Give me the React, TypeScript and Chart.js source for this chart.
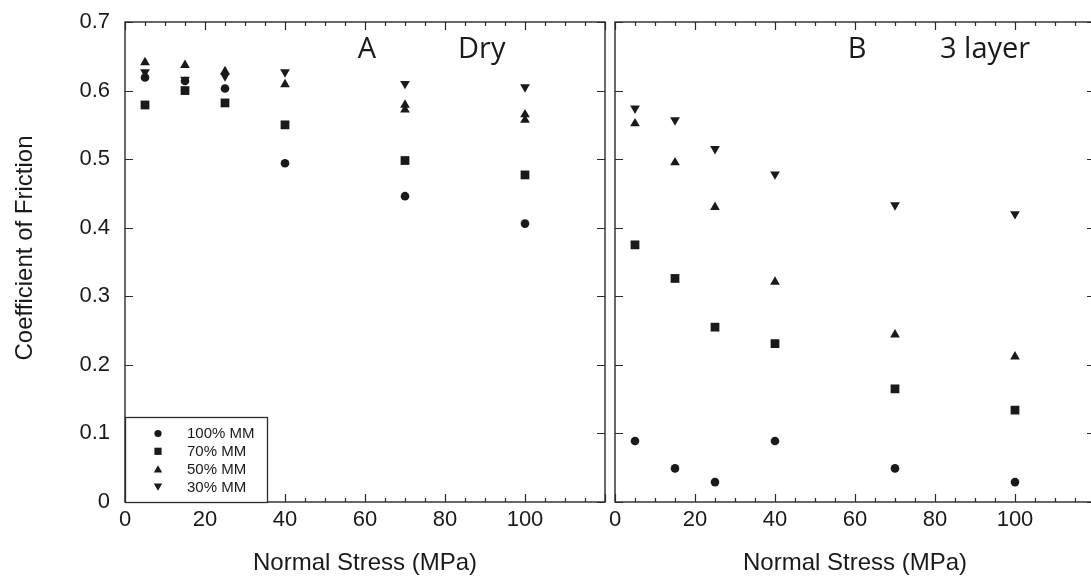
import React, { useEffect, useRef } from "react";
import { Chart, registerables } from "chart.js";

Chart.register(...registerables);

// ---------- data ----------
const stress = [5, 15, 25, 40, 70, 100];
const stress50A = [5, 15, 25, 40, 70, 70, 100, 100];

// Panel A: Dry
const mm100A = [0.619, 0.614, 0.603, 0.494, 0.446, 0.406];
const mm70A = [0.579, 0.6, 0.582, 0.55, 0.498, 0.477];
const mm50A = [0.641, 0.637, 0.628, 0.609, 0.579, 0.572, 0.565, 0.557];
const mm30A = [0.627, 0.616, 0.621, 0.627, 0.61, 0.605];

// Panel B: 3 layer
const mm100B = [0.089, 0.049, 0.029, 0.089, 0.049, 0.029];
const mm70B = [0.375, 0.326, 0.255, 0.231, 0.165, 0.134];
const mm50B = [0.552, 0.495, 0.43, 0.321, 0.244, 0.212];
const mm30B = [0.574, 0.557, 0.515, 0.478, 0.433, 0.42];

const seriesLabels = ["100% MM", "70% MM", "50% MM", "30% MM"];
const xAxisTitle = "Normal Stress (MPa)";
const yAxisTitle = "Coefficient of Friction";
const xHiddenTickValue = 120;

const FONT = "'Liberation Sans', Arial, Helvetica, sans-serif";
const NOTE_FONT = "'Open Sans', 'Noto Sans', sans-serif";
const INK = "#1a1a1a";
const FRAME = "#2a2a2a";

type Style = { pointStyle: string; radius: number; rotation: number };
const styles: Style[] = [
  { pointStyle: "circle", radius: 4.3, rotation: 0 },
  { pointStyle: "rect", radius: 6.2, rotation: 0 },
  { pointStyle: "triangle", radius: 5.6, rotation: 0 },
  { pointStyle: "triangle", radius: 5.6, rotation: 180 },
];

function pts(xs: number[], ys: number[]) {
  return ys.map((y, i) => ({ x: xs[i], y }));
}

function makeDatasets(series: { xs: number[]; ys: number[] }[]) {
  return series.map((s, i) => ({
    label: seriesLabels[i],
    data: pts(s.xs, s.ys),
    pointStyle: styles[i].pointStyle,
    pointRadius: styles[i].radius,
    pointRotation: styles[i].rotation,
    backgroundColor: INK,
    borderColor: INK,
    borderWidth: 0,
    showLine: false,
  }));
}

// frame + inward ticks
const framePlugin = {
  id: "frameTicks",
  afterDatasetsDraw(chart: any) {
    const { ctx, chartArea: a, scales } = chart;
    const xs = scales.x;
    const ys = scales.y;
    ctx.save();
    ctx.strokeStyle = FRAME;
    ctx.lineWidth = 1.4;
    ctx.strokeRect(a.left, a.top, a.right - a.left, a.bottom - a.top);
    ctx.lineWidth = 1.2;
    ctx.beginPath();
    for (let v = xs.min; v <= xs.max + 1e-9; v += 5) {
      const px = Math.round(xs.getPixelForValue(v)) + 0.5;
      const len = v % 20 === 0 ? 8 : 4;
      ctx.moveTo(px, a.bottom);
      ctx.lineTo(px, a.bottom - len);
      ctx.moveTo(px, a.top);
      ctx.lineTo(px, a.top + len);
    }
    for (let k = 0; k <= 7; k++) {
      const v = ys.min + k * 0.1;
      const py = Math.round(ys.getPixelForValue(v)) + 0.5;
      ctx.moveTo(a.left, py);
      ctx.lineTo(a.left + 8, py);
      ctx.moveTo(a.right, py);
      ctx.lineTo(a.right - 8, py);
    }
    ctx.stroke();
    ctx.restore();
  },
};

function notePlugin(letter: string, text: string, letterX: number, textX: number, baseY: number) {
  return {
    id: "note",
    afterDatasetsDraw(chart: any) {
      const { ctx, scales } = chart;
      ctx.save();
      ctx.fillStyle = INK;
      ctx.font = `29px ${NOTE_FONT}`;
      ctx.textBaseline = "alphabetic";
      const y = scales.y.getPixelForValue(baseY);
      ctx.textAlign = "center";
      ctx.fillText(letter, scales.x.getPixelForValue(letterX), y);
      ctx.textAlign = "left";
      ctx.fillText(text, scales.x.getPixelForValue(textX), y);
      ctx.restore();
    },
  };
}

const yTitlePlugin = {
  id: "yTitle",
  afterDraw(chart: any) {
    const { ctx } = chart;
    ctx.save();
    ctx.translate(32, 248);
    ctx.rotate(-Math.PI / 2);
    ctx.fillStyle = INK;
    ctx.font = `24px ${FONT}`;
    ctx.textAlign = "center";
    ctx.textBaseline = "alphabetic";
    ctx.fillText(yAxisTitle, 0, 0);
    ctx.restore();
  },
};

const legendPlugin = {
  id: "boxLegend",
  afterDatasetsDraw(chart: any) {
    const { ctx, chartArea: a } = chart;
    const boxW = 142;
    const boxTop = 417;
    ctx.save();
    ctx.fillStyle = "#ffffff";
    ctx.fillRect(a.left, boxTop, boxW, a.bottom - boxTop);
    ctx.strokeStyle = FRAME;
    ctx.lineWidth = 1.3;
    ctx.strokeRect(a.left + 0.5, boxTop + 0.5, boxW, a.bottom - boxTop);
    ctx.font = `15px ${FONT}`;
    ctx.textBaseline = "middle";
    ctx.textAlign = "left";
    chart.data.datasets.forEach((ds: any, i: number) => {
      const cy = boxTop + 16.5 + i * 17.8;
      const cx = a.left + 33;
      ctx.fillStyle = INK;
      ctx.beginPath();
      if (ds.pointStyle === "circle") {
        ctx.arc(cx, cy, 3.6, 0, Math.PI * 2);
      } else if (ds.pointStyle === "rect") {
        ctx.rect(cx - 3.6, cy - 3.6, 7.2, 7.2);
      } else if (ds.pointRotation === 180) {
        ctx.moveTo(cx - 4.2, cy - 3.5);
        ctx.lineTo(cx + 4.2, cy - 3.5);
        ctx.lineTo(cx, cy + 3.8);
        ctx.closePath();
      } else {
        ctx.moveTo(cx - 4.2, cy + 3.5);
        ctx.lineTo(cx + 4.2, cy + 3.5);
        ctx.lineTo(cx, cy - 3.8);
        ctx.closePath();
      }
      ctx.fill();
      ctx.fillText(ds.label, a.left + 62, cy + 0.5);
    });
    ctx.restore();
  },
};

function buildOptions(showYLabels: boolean, yWidth: number) {
  return {
    animation: false,
    responsive: false,
    maintainAspectRatio: false,
    layout: { padding: { top: 22, right: 7, left: 0, bottom: 0 }, autoPadding: false },
    plugins: { legend: { display: false }, tooltip: { enabled: false } },
    scales: {
      x: {
        type: "linear",
        min: 0,
        max: 120,
        grid: { display: false, drawTicks: false },
        border: { display: false },
        ticks: {
          stepSize: 20,
          padding: 5,
          color: INK,
          maxRotation: 0,
          autoSkip: false,
          font: { size: 22, family: FONT },
          callback: (v: number) => (v === xHiddenTickValue ? "" : String(v)),
        },
        title: {
          display: true,
          text: xAxisTitle,
          color: INK,
          font: { size: 24, family: FONT },
          padding: { top: 0, bottom: 10 },
        },
        afterFit: (s: any) => {
          s.height = 86;
          s.paddingLeft = 0;
          s.paddingRight = 0;
        },
      },
      y: {
        type: "linear",
        min: 0,
        max: 0.7,
        display: true,
        grid: { display: false, drawTicks: false },
        border: { display: false },
        ticks: {
          display: showYLabels,
          stepSize: 0.1,
          padding: 15,
          color: INK,
          font: { size: 22, family: FONT },
          callback: (v: number) => String(Math.round(v * 10) / 10),
        },
        afterFit: (s: any) => {
          s.width = yWidth;
          s.paddingTop = 0;
          s.paddingBottom = 0;
        },
      },
    },
  };
}

function Panel(props: {
  left: number;
  width: number;
  series: { xs: number[]; ys: number[] }[];
  showY: boolean;
  yWidth: number;
  plugins: any[];
}) {
  const ref = useRef<HTMLCanvasElement | null>(null);
  useEffect(() => {
    if (!ref.current) return;
    const chart = new Chart(ref.current, {
      type: "scatter",
      data: { datasets: makeDatasets(props.series) as any },
      options: buildOptions(props.showY, props.yWidth) as any,
      plugins: props.plugins,
    });
    return () => chart.destroy();
  }, []);
  return (
    <canvas
      ref={ref}
      width={props.width}
      height={588}
      style={{ position: "absolute", left: props.left, top: 0, width: props.width, height: 588 }}
    />
  );
}

export default function App() {
  const seriesA = [
    { xs: stress, ys: mm100A },
    { xs: stress, ys: mm70A },
    { xs: stress50A, ys: mm50A },
    { xs: stress, ys: mm30A },
  ];
  const seriesB = [
    { xs: stress, ys: mm100B },
    { xs: stress, ys: mm70B },
    { xs: stress, ys: mm50B },
    { xs: stress, ys: mm30B },
  ];
  return (
    <div
      style={{
        position: "fixed",
        left: 0,
        top: 0,
        width: 1091,
        height: 588,
        overflow: "hidden",
        background: "#ffffff",
      }}
    >
      <Panel
        left={0}
        width={612}
        series={seriesA}
        showY={true}
        yWidth={125}
        plugins={[framePlugin, legendPlugin, yTitlePlugin, notePlugin("A", "Dry", 60.5, 83.25, 0.647)]}
      />
      <Panel
        left={607}
        width={495}
        series={seriesB}
        showY={false}
        yWidth={8}
        plugins={[framePlugin, notePlugin("B", "3 layer", 60.5, 81.25, 0.647)]}
      />
    </div>
  );
}
